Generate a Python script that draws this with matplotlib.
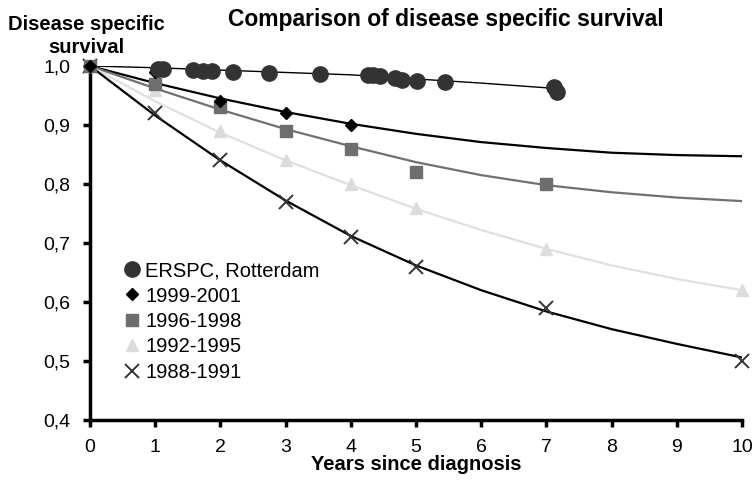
import numpy as np
import matplotlib
matplotlib.use("Agg")
import matplotlib.pyplot as plt
from matplotlib.ticker import FuncFormatter

plt.rcParams["font.family"] = ["Liberation Sans", "DejaVu Sans"]

# %% data
years = [0, 1, 2, 3, 4, 5, 6, 7, 8, 9, 10]

# ERSPC, Rotterdam observations
erspc_x = [1.05, 1.12, 1.58, 1.74, 1.87, 2.20, 2.75, 3.52, 4.27, 4.34, 4.45,
           4.68, 4.78, 5.02, 5.44, 7.11, 7.17]
erspc_y = [0.995, 0.995, 0.993, 0.992, 0.991, 0.989, 0.988, 0.986, 0.984, 0.984, 0.983,
           0.979, 0.977, 0.975, 0.972, 0.964, 0.956]
erspc_fit_x = [0, 1, 2, 3, 4, 5, 6, 7, 7.2]
erspc_fit_y = [1.0, 0.997, 0.993, 0.989, 0.985, 0.978, 0.971, 0.963, 0.961]

# cohorts
c9901_x = [0, 1, 2, 3, 4]
c9901_y = [1.0, 0.99, 0.94, 0.92, 0.90]
c9901_fit = [1.0, 0.971, 0.945, 0.922, 0.902, 0.885, 0.871, 0.861, 0.853, 0.849, 0.847]

c9698_x = [0, 1, 2, 3, 4, 5, 7]
c9698_y = [1.0, 0.97, 0.93, 0.89, 0.86, 0.82, 0.80]
c9698_fit = [1.0, 0.962, 0.926, 0.893, 0.864, 0.837, 0.815, 0.798, 0.786, 0.777, 0.771]

c9295_x = [0, 1, 2, 3, 4, 5, 7, 10]
c9295_y = [1.0, 0.96, 0.89, 0.84, 0.80, 0.76, 0.69, 0.62]
c9295_fit = [1.0, 0.940, 0.887, 0.840, 0.798, 0.758, 0.722, 0.690, 0.662, 0.639, 0.620]

c8891_x = [0, 1, 2, 3, 4, 5, 7, 10]
c8891_y = [1.0, 0.92, 0.84, 0.77, 0.71, 0.66, 0.59, 0.50]
c8891_fit = [1.0, 0.916, 0.840, 0.772, 0.712, 0.662, 0.620, 0.584, 0.554, 0.529, 0.506]

# %% plot
fig = plt.figure(figsize=(7.55, 4.83), dpi=100)
ax = fig.add_axes([0.1192, 0.1304, 0.8636, 0.7330])

# fitted curves
ax.plot(erspc_fit_x, erspc_fit_y, color="black", lw=1.0, zorder=2)
ax.plot(years, c9901_fit, color="black", lw=1.6, zorder=2)
ax.plot(years, c9698_fit, color="#707070", lw=1.6, zorder=2)
ax.plot(years, c9295_fit, color="#e0e0e0", lw=1.6, zorder=2)
ax.plot(years, c8891_fit, color="black", lw=1.6, zorder=2)

# observed points
ax.plot(c8891_x, c8891_y, ls="none", marker="x", ms=10, mew=1.4, color="#333333",
        label="1988-1991", clip_on=False, zorder=3)
ax.plot(c9295_x, c9295_y, ls="none", marker="^", ms=9, color="#dcdcdc",
        label="1992-1995", clip_on=False, zorder=3)
ax.plot(c9698_x, c9698_y, ls="none", marker="s", ms=8.5, color="#6e6e6e",
        label="1996-1998", clip_on=False, zorder=3)
ax.plot(c9901_x, c9901_y, ls="none", marker="D", ms=6.5, color="black",
        label="1999-2001", clip_on=False, zorder=3)
ax.plot(erspc_x, erspc_y, ls="none", marker="o", ms=11, color="#333333",
        label="ERSPC, Rotterdam", clip_on=False, zorder=3)

ax.set_xlim(0, 10)
ax.set_ylim(0.4, 1.0)
ax.set_xticks(range(0, 11))
ax.set_yticks([0.4, 0.5, 0.6, 0.7, 0.8, 0.9, 1.0])
ax.yaxis.set_major_formatter(FuncFormatter(lambda v, p: "{:.1f}".format(v).replace(".", ",")))

for s in ["top", "right"]:
    ax.spines[s].set_visible(False)
for s in ["left", "bottom"]:
    ax.spines[s].set_linewidth(2.5)
ax.tick_params(direction="out", length=5, width=2.5, labelsize=14, pad=9)

ax.set_xlabel("Years since diagnosis", fontsize=14.5, fontweight="bold", labelpad=-1)
fig.text(0.114, 0.925, "Disease specific\nsurvival", ha="center", va="center",
         fontsize=14.5, fontweight="bold", linespacing=1.25)
fig.text(0.59, 0.96, "Comparison of disease specific survival", ha="center", va="center",
         fontsize=16.5, fontweight="bold")

# legend in the order of the chart
handles, labels = ax.get_legend_handles_labels()
order = [4, 3, 2, 1, 0]
ax.legend([handles[i] for i in order], [labels[i] for i in order],
          loc="lower left", bbox_to_anchor=(0.04, 0.085), frameon=False,
          fontsize=14.5, handlelength=0.8, handletextpad=0.25, labelspacing=0.32,
          borderaxespad=0)

fig.savefig("out.png", dpi=100)
print("Done")
